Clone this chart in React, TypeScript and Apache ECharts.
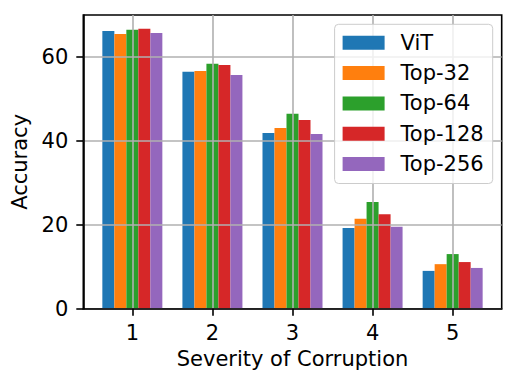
import React, { useEffect, useRef } from "react";
import * as echarts from "echarts";

const severities = [1, 2, 3, 4, 5];
const seriesNames = ["ViT", "Top-32", "Top-64", "Top-128", "Top-256"];
const vit = [66.1, 56.4, 41.8, 19.2, 9.0];
const top32 = [65.4, 56.6, 43.0, 21.4, 10.6];
const top64 = [66.4, 58.3, 46.4, 25.4, 13.0];
const top128 = [66.6, 58.0, 44.9, 22.5, 11.1];
const top256 = [65.6, 55.6, 41.6, 19.5, 9.7];
const yTicks = [0, 20, 40, 60];
const colors = ["#1f77b4", "#ff7f0e", "#2ca02c", "#d62728", "#9467bd"];

const FONT = "DejaVu Sans";
const FS = 21;

export default function App() {
  const ref = useRef<HTMLDivElement>(null);
  useEffect(() => {
    document.body.style.margin = "0";
    if (!ref.current) return;
    const chart = echarts.init(ref.current, null, { renderer: "svg" });
    const all = [vit, top32, top64, top128, top256];
    chart.setOption({
      animation: false,
      textStyle: { fontFamily: FONT, color: "#000" },
      grid: {
        left: 83.3,
        right: 15.3,
        top: 15,
        bottom: 78.3,
        show: true,
        borderColor: "#000",
        borderWidth: 1.6,
        backgroundColor: "transparent",
      },
      legend: {
        orient: "vertical",
        right: 24.3,
        top: 24.3,
        itemWidth: 42,
        itemHeight: 14,
        itemGap: 9.3,
        padding: [8, 9, 9, 8],
        backgroundColor: "rgba(255,255,255,0.8)",
        borderColor: "#cccccc",
        borderWidth: 1,
        borderRadius: 4,
        z: 10,
        textStyle: {
          fontFamily: FONT,
          fontSize: FS,
          color: "#000",
          padding: [0, 0, 0, 11],
        },
        data: seriesNames.map((n) => ({ name: n, icon: "rect" })),
      },
      xAxis: {
        type: "value",
        min: 0.3875,
        max: 5.6125,
        z: 3,
        name: "Severity of Corruption",
        nameLocation: "middle",
        nameGap: 39,
        nameTextStyle: { fontFamily: FONT, fontSize: FS, color: "#000" },
        axisLine: { show: true, onZero: false, lineStyle: { color: "#000", width: 1.6 } },
        axisTick: {
          show: true,
          length: 7,
          inside: false,
          customValues: severities,
          lineStyle: { color: "#000", width: 1.6 },
        },
        axisLabel: {
          customValues: severities,
          margin: 14,
          fontFamily: FONT,
          fontSize: FS,
          color: "#000",
          formatter: (v: number) => String(v),
        },
        splitLine: { show: true, lineStyle: { color: "#b0b0b0", width: 1.6 } },
      },
      yAxis: {
        type: "value",
        min: 0,
        max: 69.9,
        z: 3,
        name: "Accuracy",
        nameLocation: "middle",
        nameGap: 45,
        nameRotate: 90,
        nameTextStyle: { fontFamily: FONT, fontSize: FS, color: "#000" },
        axisLine: { show: true, lineStyle: { color: "#000", width: 1.6 } },
        axisTick: {
          show: true,
          length: 7,
          inside: false,
          customValues: yTicks,
          lineStyle: { color: "#000", width: 1.6 },
        },
        axisLabel: {
          customValues: yTicks,
          margin: 15,
          fontFamily: FONT,
          fontSize: FS,
          color: "#000",
          formatter: (v: number) => String(v),
        },
        splitLine: { show: true, lineStyle: { color: "#b0b0b0", width: 1.6 } },
      },
      series: seriesNames.map((n, i) => ({
        name: n,
        type: "bar",
        barWidth: 12,
        barGap: "0%",
        itemStyle: { color: colors[i] },
        data: severities.map((s, j) => [s, all[i][j]]),
      })),
    });
    return () => chart.dispose();
  }, []);
  return <div ref={ref} style={{ width: 517, height: 387 }} />;
}
